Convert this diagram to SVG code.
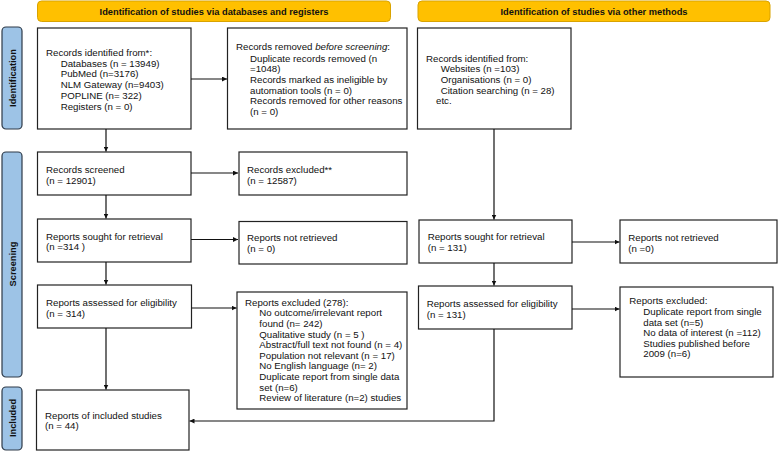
<svg xmlns="http://www.w3.org/2000/svg" width="778" height="451" viewBox="0 0 778 451">
<style>
  .box{fill:#fff;stroke:#222;stroke-width:1.2}
  .banner{fill:#ffc000;stroke:#d9a300;stroke-width:1}
  .side{fill:#9dc3e6;stroke:#2e3a48;stroke-width:1.2}
  text{font-family:"Liberation Sans",Arial,sans-serif;font-size:9.7px;fill:#111}
  .b{font-weight:bold;font-size:9.3px}
  .conn{fill:none;stroke:#111;stroke-width:1.2}
</style>
<defs>
  <marker id="ah" viewBox="0 0 10 10" refX="10" refY="5" markerWidth="5" markerHeight="5" orient="auto" markerUnits="userSpaceOnUse">
    <path d="M0,0 L10,5 L0,10 z" fill="#111"/>
  </marker>
</defs>
<rect width="778" height="451" fill="#fff"/>

<g id="banner-db"><rect class="banner" x="37.5" y="1" width="353" height="20.5" rx="4"/><text class="b" x="214" y="14.5" text-anchor="middle">Identification of studies via databases and registers</text></g>
<g id="banner-other"><rect class="banner" x="418" y="1" width="352" height="20.5" rx="4"/><text class="b" x="594" y="14.5" text-anchor="middle">Identification of studies via other methods</text></g>

<g id="side-identification"><rect class="side" x="2" y="27" width="20" height="102" rx="4"/><text class="b" transform="translate(15.5,78) rotate(-90)" text-anchor="middle">Identification</text></g>
<g id="side-screening"><rect class="side" x="2" y="152" width="20" height="225" rx="4"/><text class="b" transform="translate(15.5,264) rotate(-90)" text-anchor="middle">Screening</text></g>
<g id="side-included"><rect class="side" x="2" y="387" width="20" height="63" rx="4"/><text class="b" transform="translate(15.5,418) rotate(-90)" text-anchor="middle">Included</text></g>

<g id="records-identified"><rect class="box" x="37.5" y="28" width="153.5" height="101"/>
<text x="46" y="56">Records identified from*:</text>
<text x="60.7" y="66.7">Databases (n = 13949)</text>
<text x="60.7" y="77.4">PubMed (n=3176)</text>
<text x="60.7" y="88.1">NLM Gateway (n=9403)</text>
<text x="60.7" y="98.8">POPLINE (n= 322)</text>
<text x="60.7" y="109.5">Registers (n = 0)</text></g>

<g id="records-removed"><rect class="box" x="227.5" y="28" width="179.5" height="101"/>
<text x="236" y="50">Records removed <tspan font-style="italic">before screening</tspan>:</text>
<text x="250" y="61.5">Duplicate records removed (n</text>
<text x="250" y="72.2">=1048)</text>
<text x="250" y="82.9">Records marked as ineligible by</text>
<text x="250" y="93.6">automation tools (n = 0)</text>
<text x="250" y="104.3">Records removed for other reasons</text>
<text x="250" y="115">(n = 0)</text></g>

<g id="records-other"><rect class="box" x="417.5" y="28" width="153.5" height="101"/>
<text x="426" y="61.5">Records identified from:</text>
<text x="440.7" y="72.2">Websites (n =103)</text>
<text x="440.7" y="82.9">Organisations (n = 0)</text>
<text x="440.7" y="93.6">Citation searching (n = 28)</text>
<text x="436" y="104.3">etc.</text></g>

<g id="records-screened"><rect class="box" x="37.5" y="152" width="153.5" height="43"/>
<text x="46" y="172.5">Records screened</text><text x="46" y="183.5">(n = 12901)</text></g>

<g id="records-excluded"><rect class="box" x="239" y="152" width="168" height="43"/>
<text x="247" y="172.5">Records excluded**</text><text x="247" y="183.5">(n = 12587)</text></g>

<g id="sought-db"><rect class="box" x="37.5" y="219" width="153.5" height="43"/>
<text x="46" y="239.5">Reports sought for retrieval</text><text x="46" y="250.3">(n =314 )</text></g>

<g id="not-retrieved-db"><rect class="box" x="239" y="221.5" width="168" height="42.5"/>
<text x="247" y="241">Reports not retrieved</text><text x="247" y="251.8">(n = 0)</text></g>

<g id="assessed-db"><rect class="box" x="37.5" y="285" width="154" height="43"/>
<text x="46" y="305.7">Reports assessed for eligibility</text><text x="46" y="316.7">(n = 314)</text></g>

<g id="excluded-db"><rect class="box" x="237" y="292" width="170" height="117"/>
<text x="245" y="305.7">Reports excluded (278):</text>
<text x="259.3" y="316.3">No outcome/irrelevant report</text>
<text x="259.3" y="327">found (n= 242)</text>
<text x="259.3" y="337.6">Qualitative study (n = 5 )</text>
<text x="259.3" y="348.1">Abstract/full text not found (n = 4)</text>
<text x="259.3" y="358.7">Population not relevant (n = 17)</text>
<text x="259.3" y="369.3">No English language (n= 2)</text>
<text x="259.3" y="379.9">Duplicate report from single data</text>
<text x="259.3" y="390.5">set (n=6)</text>
<text x="259.3" y="401.1">Review of literature (n=2) studies</text></g>

<g id="included"><rect class="box" x="36.5" y="390" width="152.5" height="60"/>
<text x="45" y="418.5">Reports of included studies</text><text x="45" y="429.3">(n = 44)</text></g>

<g id="sought-other"><rect class="box" x="419" y="220" width="153" height="43"/>
<text x="427.7" y="240.2">Reports sought for retrieval</text><text x="427.7" y="251">(n = 131)</text></g>

<g id="not-retrieved-other"><rect class="box" x="620" y="220" width="157" height="43"/>
<text x="628.3" y="241">Reports not retrieved</text><text x="628.3" y="252">(n =0)</text></g>

<g id="assessed-other"><rect class="box" x="418.5" y="286" width="153.5" height="43"/>
<text x="426.7" y="306.8">Reports assessed for eligibility</text><text x="426.7" y="317.6">(n = 131)</text></g>

<g id="excluded-other"><rect class="box" x="620" y="287" width="153" height="90"/>
<text x="629.3" y="304">Reports excluded:</text>
<text x="643.3" y="315">Duplicate report from single</text>
<text x="643.3" y="325.6">data set (n=5)</text>
<text x="643.3" y="336.1">No data of interest (n =112)</text>
<text x="643.3" y="346.6">Studies published before</text>
<text x="643.3" y="357.2">2009 (n=6)</text></g>

<g id="connectors">
  <line class="conn" x1="191" y1="79" x2="227" y2="79" marker-end="url(#ah)"/>
  <line class="conn" x1="106" y1="129" x2="106" y2="151.5" marker-end="url(#ah)"/>
  <line class="conn" x1="191" y1="173" x2="238" y2="173" marker-end="url(#ah)"/>
  <line class="conn" x1="106" y1="195" x2="106" y2="218.5" marker-end="url(#ah)"/>
  <line class="conn" x1="191" y1="239.5" x2="238" y2="239.5" marker-end="url(#ah)"/>
  <line class="conn" x1="106" y1="262" x2="106" y2="284.5" marker-end="url(#ah)"/>
  <line class="conn" x1="191.5" y1="308" x2="236.5" y2="308" marker-end="url(#ah)"/>
  <line class="conn" x1="106" y1="328" x2="106" y2="389.5" marker-end="url(#ah)"/>
  <line class="conn" x1="494" y1="129" x2="494" y2="219.5" marker-end="url(#ah)"/>
  <line class="conn" x1="572" y1="242" x2="619.5" y2="242" marker-end="url(#ah)"/>
  <line class="conn" x1="494" y1="263" x2="494" y2="285.5" marker-end="url(#ah)"/>
  <line class="conn" x1="572" y1="309" x2="619.5" y2="309" marker-end="url(#ah)"/>
  <polyline class="conn" points="494,329 494,421 189.5,421" marker-end="url(#ah)"/>
</g>
</svg>
